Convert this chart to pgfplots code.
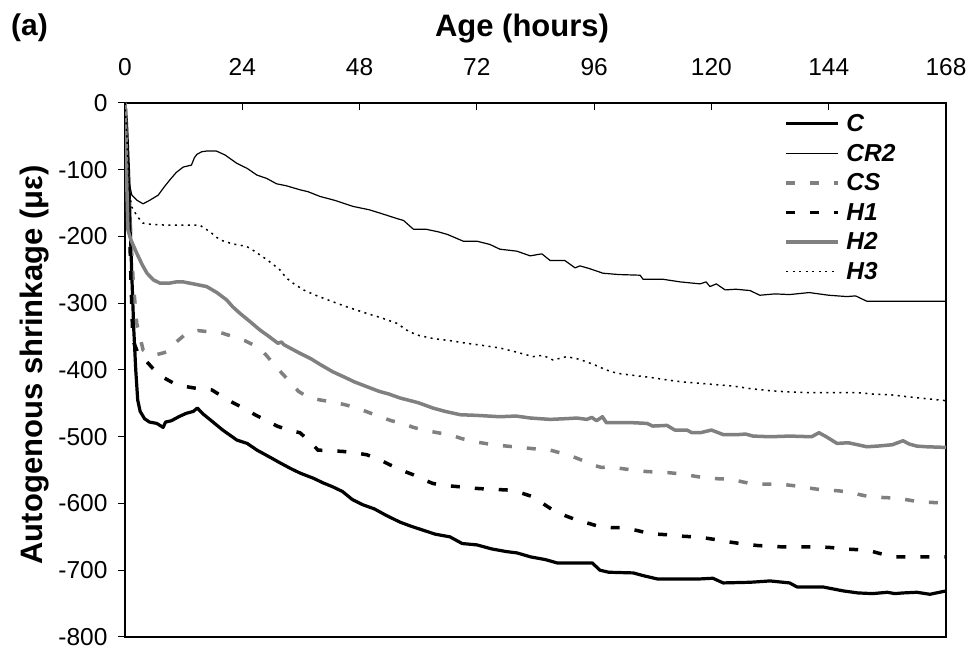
\documentclass[border=0pt]{standalone}
\usepackage{fontspec}
\setmainfont{Liberation Sans}
\usepackage{pgfplots}
\pgfplotsset{compat=1.18}
\definecolor{sgray}{RGB}{128,128,128}
\begin{document}
\begin{tikzpicture}
\path[use as bounding box] (0,0) rectangle (972pt,650pt);
\begin{axis}[
  at={(125pt,13pt)}, anchor=south west,
  scale only axis, width=821pt, height=534pt,
  xmin=0, xmax=168, ymin=-800, ymax=0,
  xtick={0,24,...,168}, ytick={-800,-700,...,0},
  axis line style={line width=2.2pt},
  xtick pos=upper, xticklabel pos=upper, ytick pos=left,
  xtick align=inside, ytick align=outside,
  major tick length=7pt,
  tick style={black, line width=1pt},
  ticklabel style={font=\fontsize{24.5}{28}\selectfont},
  xticklabel style={yshift=24pt},
  yticklabel style={xshift=-7pt},
  /pgf/number format/assume math mode=true,
  legend style={draw=none, fill=none, inner sep=0pt, at={(0.803,0.989)}, anchor=north west,
    font=\fontsize{24.5}{28}\selectfont\bfseries\itshape,
    nodes={inner ysep=5.5pt, inner xsep=3.5pt}, row sep=0pt, column sep=3pt},
  legend cell align=left,
  legend image code/.code={\draw[#1] (0pt,0pt) -- (52pt,0pt);},
]
\addplot[black, line width=3.2pt, line join=round] coordinates {
(0,0) (0.3,-30) (0.7,-100) (1.0,-170) (1.4,-260) (1.8,-340) (2.2,-400) (2.6,-445) (3.1,-462) (4,-473) (5,-478) (6.5,-480) (7.8,-486) (8.3,-478) (9.5,-476) (11,-470) (12.5,-465) (14,-462) (14.8,-457) (16,-466) (18,-478) (20,-490) (22.9,-505) (25,-510) (27,-520) (29.5,-530) (31.7,-539) (34,-548) (36,-555) (38.5,-562) (40.5,-569) (42.5,-575) (44.5,-582) (46.5,-594) (48.7,-602) (51,-608) (53.5,-618) (56.3,-628) (58.5,-634) (61,-640) (63.5,-646) (66.5,-650) (69,-660) (72,-662) (75,-668) (78,-672) (80.2,-674) (83,-680) (86,-684) (88.4,-689) (92,-689) (95.6,-689) (97.2,-700) (99,-703) (104,-704) (106,-708) (108.9,-713) (113,-713) (117.7,-713) (120.3,-712) (122.4,-719) (128,-718) (132,-716) (136,-719) (137.5,-725) (142.8,-725) (147,-731) (150,-734) (153,-735) (156,-733) (157.5,-735) (159.2,-734) (162,-733) (164.7,-736) (168,-731)
};
\addlegendentry{C}
\addplot[black, line width=1.2pt, line join=round] coordinates {
(0,0) (0.3,-40) (0.6,-90) (1.0,-125) (1.4,-138) (2.5,-146) (3.7,-151) (5,-146) (6.8,-138) (8,-126) (9.2,-115) (10.5,-104) (11.9,-96) (13.6,-93) (14.2,-82) (14.7,-77) (15.7,-73) (16.7,-72) (18.7,-72) (20.5,-78) (22.8,-90) (25,-98) (27,-108) (29,-113) (31,-121) (33,-124) (35.8,-130) (37.5,-133) (39.9,-140) (43,-146) (46.7,-155) (50,-160) (52.2,-165) (55.6,-173) (57,-176) (59,-189) (61.5,-189) (64.1,-193) (66,-197) (69.2,-207) (72,-207) (74.7,-212) (76.7,-219) (80.2,-222) (82.9,-229) (85.3,-226) (87,-236) (90,-236) (92.1,-247) (93.1,-244) (95,-248) (97.8,-255) (101,-257) (105.4,-258) (106,-264) (110,-264) (113.6,-268) (117.7,-271) (118.9,-268) (119.7,-275) (121,-271) (122.8,-280) (125,-279) (127.9,-281) (129.9,-288) (133,-286) (136,-287) (140,-284) (144,-288) (147.7,-290) (149.5,-289) (151.8,-297) (156.5,-297) (168,-297)
};
\addlegendentry{CR2}
\addplot[sgray, line width=3.5pt, dash pattern=on 9pt off 15pt] coordinates {
(0,0) (0.4,-60) (0.8,-130) (1.2,-200) (1.7,-270) (2.4,-330) (3.7,-370) (5.5,-378) (7,-376) (8.5,-373) (10.5,-358) (12.6,-345) (15,-341) (17.4,-343) (20,-345) (22.1,-350) (24.5,-356) (27,-365) (28.8,-377) (30.3,-390) (32,-404) (33.8,-418) (35.5,-432) (37.5,-441) (40,-445) (42.6,-448) (45,-452) (47.5,-457) (50,-464) (52.2,-470) (54.5,-476) (56.9,-480) (59,-486) (61.8,-491) (64,-494) (66.5,-497) (69,-503) (72,-508) (74.5,-511) (76.7,-513) (79.5,-515) (82.3,-517) (85,-519) (87,-520) (89.5,-525) (91.7,-530) (93.8,-536) (95.6,-542) (97.5,-546) (99.2,-545) (102,-548) (104,-550) (106.5,-552) (108.9,-553) (111.5,-554) (114.2,-556) (116.5,-559) (119,-562) (121.5,-563) (123.8,-563) (126,-567) (128.5,-571) (131,-571) (134,-571) (136.5,-573) (138.7,-575) (141,-578) (143.6,-580) (146,-581) (148.4,-583) (150.5,-587) (152.5,-590) (155,-591) (158,-592) (160.5,-595) (162.7,-598) (168,-599)
};
\addlegendentry{CS}
\addplot[black, line width=3.5pt, dash pattern=on 9pt off 15pt] coordinates {
(0,0) (0.4,-70) (0.8,-150) (1.2,-260) (1.6,-355) (2.5,-372) (3.5,-382) (4.5,-388) (6,-400) (7.8,-411) (10,-420) (12.6,-425) (15,-428) (17.8,-430) (20,-440) (22.1,-449) (24.5,-458) (26.6,-467) (29,-476) (31.1,-484) (33.5,-490) (35.8,-494) (37.5,-505) (39.5,-520) (42,-521) (44.6,-522) (47,-524) (49.5,-527) (52,-534) (54.2,-542) (56.5,-550) (59,-557) (61,-564) (63,-570) (65.5,-573) (68.5,-575) (71,-577) (73.3,-578) (76,-579) (78.8,-580) (81,-584) (83.5,-590) (85.5,-600) (87.6,-610) (90,-618) (92.5,-625) (95,-630) (97.2,-635) (99.5,-636) (101.9,-636) (104.5,-640) (106.8,-644) (109,-646) (111.5,-647) (114,-649) (116.6,-650) (119,-652) (121.7,-655) (124,-658) (126.9,-661) (129.5,-663) (132,-664) (134.5,-665) (136.7,-665) (139.5,-665) (142.2,-665) (144.5,-666) (147,-668) (149.5,-669) (152,-670) (154.5,-675) (157.2,-680) (160,-680) (162,-680) (168,-680)
};
\addlegendentry{H1}
\addplot[sgray, line width=3.5pt, line join=round] coordinates {
(0,0) (0.2,-50) (0.4,-130) (0.6,-190) (1.2,-205) (2.4,-225) (3.5,-242) (4.5,-255) (5.8,-265) (7.2,-270) (9,-270) (10.5,-268) (11.9,-268) (14,-271) (16.7,-275) (18.8,-284) (20.8,-295) (22,-305) (23.5,-315) (25.5,-327) (27.6,-340) (29.5,-350) (31.3,-360) (32,-358) (32.5,-362) (34,-368) (35.8,-375) (38,-383) (40,-392) (42.6,-403) (45,-411) (47,-418) (49.5,-425) (52,-432) (54,-436) (56.3,-442) (60,-449) (63,-457) (65.5,-462) (68.6,-467) (72,-468) (76.7,-470) (80,-469) (83,-472) (87,-474) (90,-473) (92.5,-472) (94.5,-474) (95.5,-471) (96.5,-476) (97.7,-470) (98.5,-479) (101,-479) (104,-479) (106.8,-480) (108,-484) (110.9,-483) (112.5,-490) (115,-490) (116,-494) (117.7,-494) (120,-490) (122.5,-497) (125,-497) (127,-496) (128.5,-499) (132,-500) (136,-499) (140.5,-500) (142,-494) (143.5,-500) (145.7,-510) (148,-509) (151.8,-515) (154,-514) (157,-512) (159.2,-506) (160.5,-511) (162,-514) (164,-515) (168,-516)
};
\addlegendentry{H2}
\addplot[black, line width=1.5pt, dash pattern=on 2pt off 4.5pt] coordinates {
(0,0) (0.3,-40) (0.7,-100) (1.0,-140) (1.4,-156) (2.5,-170) (3.7,-180) (5.5,-182) (8.5,-183) (12,-183) (15.3,-183) (17.4,-193) (19.4,-205) (22,-211) (24.9,-215) (26.5,-222) (28.3,-231) (30,-240) (31.7,-250) (33,-262) (34.4,-270) (36.5,-280) (39,-288) (42.6,-298) (46,-307) (49.4,-315) (52.5,-322) (55.6,-330) (58,-342) (60,-348) (63.1,-353) (66.5,-356) (69.9,-360) (73,-363) (76.7,-367) (80,-373) (83.5,-380) (85.5,-378) (87.6,-385) (90.4,-380) (93,-384) (96,-392) (98.5,-400) (100.7,-405) (104,-408) (107.4,-411) (111,-415) (114.2,-418) (117.7,-420) (121,-422) (124.4,-424) (128,-428) (132,-431) (136,-433) (140.2,-434) (145,-434) (150,-434) (153,-436) (156.5,-437) (160,-440) (164,-443) (168,-446)
};
\addlegendentry{H3}
\end{axis}
\node[font=\fontsize{31}{36}\selectfont\bfseries, anchor=base, inner sep=0pt] at (522pt,613pt) {Age (hours)};
\node[font=\fontsize{31}{36}\selectfont\bfseries, anchor=base, rotate=90, inner sep=0pt] at (42pt,285pt) {Autogenous shrinkage (με)};
\node[font=\fontsize{30}{34}\selectfont\bfseries, anchor=base west, inner sep=0pt] at (11pt,614pt) {(a)};
\end{tikzpicture}
\end{document}
